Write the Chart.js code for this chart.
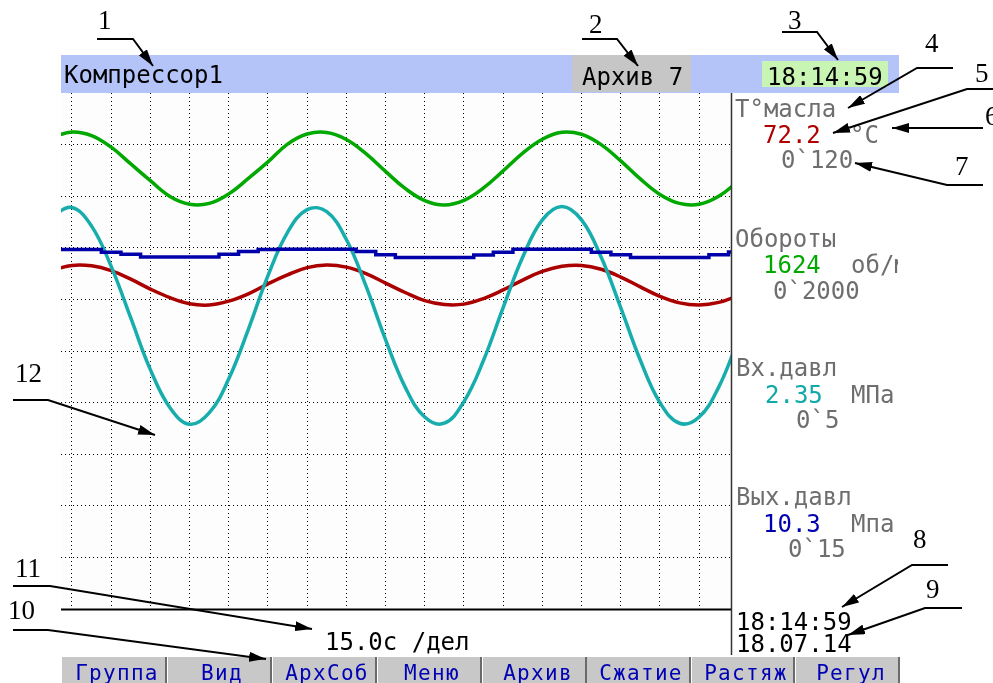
<!DOCTYPE html>
<html>
<head>
<meta charset="utf-8">
<title>Компрессор1</title>
<script src="https://cdn.jsdelivr.net/npm/chart.js@4"></script>
<style>
  body { margin: 0; width: 993px; height: 683px; position: relative; overflow: hidden; background: #fff; }
  #plot { position: absolute; left: 61px; top: 93px; width: 670px; height: 516px; background: #fdfdfd; }
  #overlay { position: absolute; left: 0; top: 0; }
  .mono { font-family: "DejaVu Sans Mono", monospace; font-size: 24px; }
  .lbl { fill: #6e6e6e; }
  .btn { font-family: "DejaVu Sans Mono", monospace; font-size: 21px; letter-spacing: 1.3px; fill: #0000b4; text-anchor: middle; }
  .num { font-family: "Liberation Serif", "Times New Roman", serif; font-size: 27px; fill: #000; }
  .lead { fill: none; stroke: #000; stroke-width: 2; marker-end: url(#arr); }
</style>
</head>
<body>
<div id="plot"><canvas id="trend" width="670" height="516"></canvas></div>

<svg id="overlay" width="993" height="683">
  <defs>
    <marker id="arr" markerUnits="userSpaceOnUse" markerWidth="18" markerHeight="10" refX="17" refY="5" orient="auto">
      <path d="M0,0 L17,5 L0,10 z" fill="#000"/>
    </marker>
    <clipPath id="panelClip"><rect x="731" y="93" width="167" height="560"/></clipPath>
  </defs>

  <!-- header bar -->
  <rect x="61" y="55" width="838" height="38" fill="#b4c4f8"/>
  <rect x="572" y="55" width="119" height="37" fill="#c6c6c6"/>
  <rect x="762" y="61" width="126" height="26" fill="#c8f5b4"/>
  <text class="mono" x="64" y="83" fill="#000">Компрессор1</text>
  <text class="mono" x="582" y="85" fill="#000">Архив 7</text>
  <text class="mono" x="767" y="85" fill="#000">18:14:59</text>

  <!-- frame -->
  <line x1="731.5" y1="93" x2="731.5" y2="655" stroke="#333" stroke-width="1.5"/>
  <line x1="61" y1="609.5" x2="731" y2="609.5" stroke="#000" stroke-width="2"/>

  <!-- channel panel -->
  <g class="mono">
    <text class="lbl" x="735" y="117">Т°масла</text>
    <text x="763" y="143" fill="#b00000">72.2</text>
    <text class="lbl" x="850" y="143">°С</text>
    <text class="lbl" x="781" y="168">0`120</text>

    <text class="lbl" x="735" y="247">Обороты</text>
    <text x="763" y="273" fill="#00a800">1624</text>
    <text class="lbl" x="851" y="273" clip-path="url(#panelClip)">об/мин</text>
    <text class="lbl" x="773" y="299">0`2000</text>

    <text class="lbl" x="736" y="376">Вх.давл</text>
    <text x="765" y="403" fill="#10a8a8">2.35</text>
    <text class="lbl" x="851" y="403">МПа</text>
    <text class="lbl" x="796" y="428">0`5</text>

    <text class="lbl" x="736" y="505">Вых.давл</text>
    <text x="763" y="532" fill="#0000b0">10.3</text>
    <text class="lbl" x="851" y="532">Мпа</text>
    <text class="lbl" x="788" y="557">0`15</text>

    <text x="736" y="630" fill="#000">18:14:59</text>
    <text x="736" y="652" fill="#000">18.07.14</text>

    <text x="325" y="650" fill="#000">15.0с /дел</text>
  </g>

  <!-- soft keys -->
  <g fill="#c8c8c8">
    <rect x="62" y="657" width="104" height="26"/>
    <rect x="168" y="657" width="103" height="26"/>
    <rect x="273" y="657" width="102" height="26"/>
    <rect x="378" y="657" width="102" height="26"/>
    <rect x="483" y="657" width="102" height="26"/>
    <rect x="587" y="657" width="102" height="26"/>
    <rect x="692" y="657" width="101" height="26"/>
    <rect x="796" y="657" width="102" height="26"/>
  </g>
  <g stroke="#6a6a6a" stroke-width="2">
    <line x1="166" y1="657" x2="166" y2="683"/>
    <line x1="271" y1="657" x2="271" y2="683"/>
    <line x1="376" y1="657" x2="376" y2="683"/>
    <line x1="481" y1="657" x2="481" y2="683"/>
    <line x1="586" y1="657" x2="586" y2="683"/>
    <line x1="690" y1="657" x2="690" y2="683"/>
    <line x1="794" y1="657" x2="794" y2="683"/>
    <line x1="899" y1="657" x2="899" y2="683"/>
  </g>
  <text class="btn" x="117" y="680">Группа</text>
  <text class="btn" x="222" y="680">Вид</text>
  <text class="btn" x="327" y="680">АрхСоб</text>
  <text class="btn" x="432" y="680">Меню</text>
  <text class="btn" x="538" y="680">Архив</text>
  <text class="btn" x="641" y="680">Сжатие</text>
  <text class="btn" x="746" y="680">Растяж</text>
  <text class="btn" x="851" y="680">Регул</text>

  <!-- callouts -->
  <text class="num" x="98" y="29">1</text>
  <polyline class="lead" points="97,39 133,39 153,66"/>
  <text class="num" x="589" y="33">2</text>
  <polyline class="lead" points="582,39 617,39 638,66"/>
  <text class="num" x="788" y="29">3</text>
  <polyline class="lead" points="782,32 817,32 838,60"/>
  <text class="num" x="925" y="52">4</text>
  <polyline class="lead" points="953,68 917,68 848,108"/>
  <text class="num" x="975" y="82">5</text>
  <polyline class="lead" points="993,89 967,89 833,133"/>
  <text class="num" x="985" y="125">6</text>
  <polyline class="lead" points="983,128 892,128"/>
  <text class="num" x="955" y="175">7</text>
  <polyline class="lead" points="983,185 947,185 855,163"/>
  <text class="num" x="913" y="548">8</text>
  <polyline class="lead" points="948,565 912,565 842,607"/>
  <text class="num" x="926" y="598">9</text>
  <polyline class="lead" points="962,608 925,608 848,635"/>
  <text class="num" x="8" y="619">10</text>
  <polyline class="lead" points="13,630 48,630 266,659"/>
  <text class="num" x="15" y="577">11</text>
  <polyline class="lead" points="13,586 50,586 312,629"/>
  <text class="num" x="15" y="382">12</text>
  <polyline class="lead" points="13,400 48,400 155,435"/>
</svg>

<script>
// archive time, s (15 s per division)
const times = [-7.5, 0, 7.5, 15, 22.5, 30, 37.5, 45, 52.5, 60, 67.5, 75, 82.5, 90, 97.5, 105, 112.5, 120,
  127.5, 135, 142.5, 150, 157.5, 165, 172.5, 180, 187.5, 195, 202.5, 210, 217.5, 225, 232.5, 240, 247.5, 255];

// T°масла, °C (0`120)
const oilTemp = [78.8, 79.9, 79.8, 78.7, 76.7, 74.4, 72.4, 71.0, 70.7, 71.6, 73.3, 75.6, 77.7, 79.4, 80.0, 79.5, 78.0, 75.8,
  73.6, 71.7, 70.8, 70.9, 72.2, 74.2, 76.5, 78.5, 79.7, 79.9, 79.0, 77.2, 74.9, 72.7, 71.2, 70.7, 71.3, 72.9];

// Обороты, об/мин (0`2000)
const rpm = [1828, 1849, 1835, 1790, 1725, 1660, 1599, 1569, 1572, 1609, 1669, 1733, 1802, 1841, 1847, 1820, 1765, 1696,
  1630, 1583, 1566, 1584, 1632, 1698, 1767, 1821, 1848, 1840, 1800, 1737, 1667, 1607, 1572, 1569, 1600, 1658];

// Вх.давл, МПа (0`5)
const inletP = [3.81, 3.89, 3.71, 3.32, 2.82, 2.32, 1.95, 1.79, 1.90, 2.23, 2.71, 3.23, 3.65, 3.87, 3.85, 3.58, 3.13, 2.61,
  2.15, 1.86, 1.80, 2.01, 2.41, 2.92, 3.41, 3.77, 3.90, 3.77, 3.41, 2.92, 2.41, 2.00, 1.80, 1.86, 2.15, 2.61];

// Вых.давл, МПа (0`15)
const outletP = [10.45, 10.45, 10.45, 10.37, 10.31, 10.23, 10.23, 10.23, 10.23, 10.31, 10.39, 10.45, 10.46, 10.46, 10.46, 10.46, 10.39, 10.30,
  10.22, 10.22, 10.22, 10.22, 10.29, 10.37, 10.46, 10.46, 10.46, 10.46, 10.37, 10.30, 10.22, 10.22, 10.22, 10.22, 10.30, 10.38];

const timeTicks = [0, 15, 30, 45, 60, 75, 90, 105, 120, 135, 150, 165, 180, 195, 210, 225, 240];
const tempTicks = [12, 24, 36, 48, 60, 72, 84, 96, 108];

function points(values) {
    return values.map((v, i) => ({ x: times[i], y: v }));
}

const dotted = [1, 3];
const gridColor = '#000';

new Chart(document.getElementById('trend'), {
    type: 'line',
    data: {
        datasets: [
            { label: 'Вых.давл', data: points(outletP), borderColor: '#0000aa', yAxisID: 'yOut', stepped: 'middle' },
            { label: 'Вх.давл', data: points(inletP), borderColor: '#17adad', yAxisID: 'yIn' },
            { label: 'Т°масла', data: points(oilTemp), borderColor: '#aa0000', yAxisID: 'yOil' },
            { label: 'Обороты', data: points(rpm), borderColor: '#00a800', yAxisID: 'yRpm' }
        ]
    },
    options: {
        responsive: false,
        animation: false,
        layout: { padding: 0 },
        elements: {
            point: { radius: 0 },
            line: { borderWidth: 3.5, tension: 0.4 }
        },
        plugins: {
            legend: { display: false },
            tooltip: { enabled: false }
        },
        scales: {
            x: {
                type: 'linear',
                min: -4.2,
                max: 252.2,
                ticks: { display: false },
                grid: { color: gridColor, lineWidth: 1, drawTicks: false, borderDash: dotted },
                border: { display: false, dash: dotted },
                afterBuildTicks: (scale) => { scale.ticks = timeTicks.map(v => ({ value: v })); }
            },
            yOil: {
                position: 'left',
                min: 0,
                max: 120,
                ticks: { display: false },
                grid: { color: gridColor, lineWidth: 1, drawTicks: false, borderDash: dotted },
                border: { display: false, dash: dotted },
                afterBuildTicks: (scale) => { scale.ticks = tempTicks.map(v => ({ value: v })); }
            },
            yRpm: { display: false, min: 0, max: 2000 },
            yIn: { display: false, min: 0, max: 5 },
            yOut: { display: false, min: 0, max: 15 }
        }
    }
});
</script>
</body>
</html>
